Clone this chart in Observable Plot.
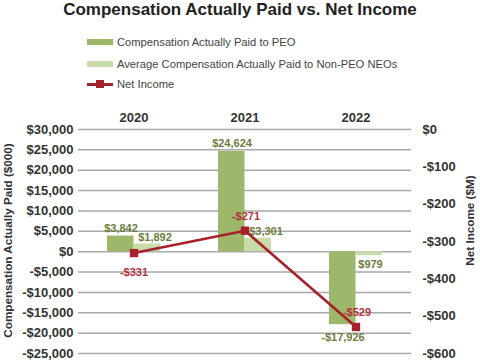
<!DOCTYPE html>
<html>
<head>
<meta charset="utf-8">
<script src="https://cdn.jsdelivr.net/npm/d3@7"></script>
<script src="https://cdn.jsdelivr.net/npm/@observablehq/plot@0.6"></script>
<style>
  body { margin: 0; background: #fff; }
  #wrap { position: relative; width: 480px; height: 360px; font-family: "Liberation Sans", Arial, Helvetica, sans-serif; color: #333; overflow: hidden; }
  #title { position: absolute; left: 0; top: 0; width: 480px; text-align: center; font-size: 17px; font-weight: bold; line-height: 20px; color: #222; }
  .leg { position: absolute; left: 87px; height: 14px; line-height: 14px; font-size: 11.2px; color: #444; white-space: nowrap; }
  .sw { position: absolute; left: 0; top: 4px; width: 26px; height: 6px; }
  .lt { position: absolute; left: 30px; top: 0; }
  .ln { position: absolute; left: 0; top: 5.5px; width: 26px; height: 3px; background: #a6212c; }
  .sq { position: absolute; left: 9px; top: 3px; width: 8px; height: 8px; background: #a6212c; }
  #chart { position: absolute; left: 0; top: 100px; }
</style>
</head>
<body>
<div id="wrap">
  <div id="title">Compensation Actually Paid vs. Net Income</div>
  <div class="leg" style="top:35px"><div class="sw" style="background:#9db86b"></div><span class="lt">Compensation Actually Paid to PEO</span></div>
  <div class="leg" style="top:56.5px"><div class="sw" style="background:#c8dba9"></div><span class="lt">Average Compensation Actually Paid to Non-PEO NEOs</span></div>
  <div class="leg" style="top:77px"><div class="ln"></div><div class="sq"></div><span class="lt">Net Income</span></div>
  <div id="chart"></div>
</div>
<script>
const years = ["2020", "2021", "2022"];
const capPEO = [3842, 24624, -17926];
const capNEO = [1892, 3301, -979];
const netIncome = [-331, -271, -529];
const peoLabels = ["$3,842", "$24,624", "-$17,926"];
const neoLabels = ["$1,892", "$3,301", "$979"];
const niLabels = ["-$331", "-$271", "-$529"];
const leftTicks = [-25000, -20000, -15000, -10000, -5000, 0, 5000, 10000, 15000, 20000, 25000, 30000];
const rightTicks = [0, -100, -200, -300, -400, -500, -600];
const leftTitle = "Compensation Actually Paid ($000)";
const rightTitle = "Net Income ($M)";

const L0 = -25000, L1 = 30000, R0 = -600, R1 = 0;
const toLeft = v => L0 + (v - R0) * (L1 - L0) / (R1 - R0);
const fromLeft = v => Math.round(R0 + (v - L0) * (R1 - R0) / (L1 - L0));
const money = v => (v < 0 ? "-$" : "$") + d3.format(",")(Math.abs(v));

const idx = years.map((d, i) => i);
const RED = "#a6212c", PEO = "#9db86b", NEO = "#c8dba9", GLAB = "#6a7d3b", RLAB = "#b3323a";

const plot = Plot.plot({
  width: 480,
  height: 260,
  marginTop: 29,
  marginBottom: 7,
  marginLeft: 78,
  marginRight: 69,
  style: { fontFamily: '"Liberation Sans", Arial, Helvetica, sans-serif', fontSize: "13px", fontWeight: "bold", color: "#333", background: "transparent", overflow: "visible" },
  x: { type: "band", domain: years, padding: 0, axis: null },
  y: { domain: [L0, L1], axis: null },
  marks: [
    Plot.gridY(leftTicks, { stroke: "#a9a9a9", strokeOpacity: 1, strokeWidth: 1.5 }),
    Plot.axisX({ anchor: "top", tickSize: 0, tickPadding: 8, fontSize: 13, fontWeight: "bold", label: null, fill: "#333" }),
    Plot.axisY(leftTicks, { anchor: "left", tickSize: 0, tickPadding: 5, tickFormat: money, fontSize: 13, fontWeight: "bold", label: null, fill: "#333" }),
    Plot.axisY(rightTicks.map(toLeft), { anchor: "right", tickSize: 0, tickPadding: 11, tickFormat: v => money(fromLeft(v)), fontSize: 13, fontWeight: "bold", label: null, fill: "#333" }),
    Plot.text([leftTitle], { frameAnchor: "left", textAnchor: "middle", lineAnchor: "middle", dx: -70, dy: -1, rotate: -90, fontSize: 11.7, fontWeight: "bold", fill: "#333" }),
    Plot.text([rightTitle], { frameAnchor: "right", textAnchor: "middle", lineAnchor: "middle", dx: 59, dy: -21, rotate: -90, fontSize: 11.7, fontWeight: "bold", fill: "#333" }),
    Plot.barY(idx, { x: i => years[i], y: i => capPEO[i], fill: PEO, insetLeft: 29, insetRight: 55.5 }),
    Plot.barY(idx, { x: i => years[i], y: i => capNEO[i], fill: NEO, insetLeft: 55.5, insetRight: 29 }),
    Plot.text(idx.filter(i => capPEO[i] >= 0), { x: i => years[i], y: i => capPEO[i], text: i => peoLabels[i], dx: -13, dy: -4, lineAnchor: "bottom", fontSize: 11, fontWeight: "bold", fill: GLAB }),
    Plot.text(idx.filter(i => capPEO[i] < 0), { x: i => years[i], y: i => capPEO[i], text: i => peoLabels[i], dx: -13, dy: 8, lineAnchor: "top", fontSize: 11, fontWeight: "bold", fill: GLAB }),
    Plot.text(idx.filter(i => capNEO[i] >= 0), { x: i => years[i], y: i => capNEO[i], text: i => neoLabels[i], dx: 21, dy: -3, lineAnchor: "bottom", fontSize: 11, fontWeight: "bold", fill: GLAB }),
    Plot.text(idx.filter(i => capNEO[i] < 0), { x: i => years[i], y: i => capNEO[i], text: i => neoLabels[i], dx: 14.5, dy: 5, lineAnchor: "top", fontSize: 11, fontWeight: "bold", fill: GLAB }),
    Plot.line(idx, { x: i => years[i], y: i => toLeft(netIncome[i]), stroke: RED, strokeWidth: 2.6 }),
    Plot.dot(idx, { x: i => years[i], y: i => toLeft(netIncome[i]), symbol: "square", r: 4.7, fill: RED, stroke: "none" }),
    Plot.text(idx.filter(i => i === 0), { x: i => years[i], y: i => toLeft(netIncome[i]), text: i => niLabels[i], dy: 19, fontSize: 11, fontWeight: "bold", fill: RLAB }),
    Plot.text(idx.filter(i => i > 0), { x: i => years[i], y: i => toLeft(netIncome[i]), text: i => niLabels[i], dx: 1, dy: -14.5, fontSize: 11, fontWeight: "bold", fill: RLAB })
  ]
});
document.getElementById("chart").appendChild(plot);
</script>
</body>
</html>
